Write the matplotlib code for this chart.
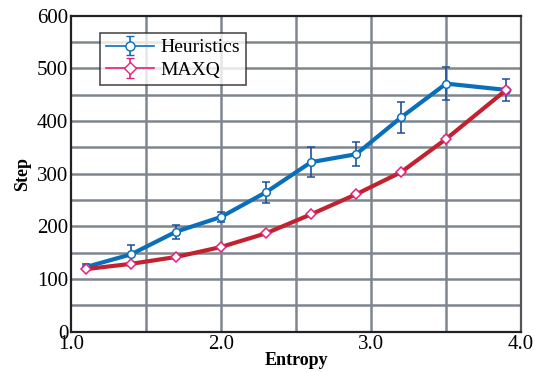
#!/usr/bin/env python3
"""Step vs entropy: Heuristics vs MAXQ."""

import matplotlib
matplotlib.use("Agg")
import matplotlib.pyplot as plt
import numpy as np

entropy = [1.1, 1.4, 1.7, 2.0, 2.3, 2.6, 2.9, 3.2, 3.5, 3.9]
heur_steps = [123, 147, 190, 218, 265, 322, 337, 407, 471, 459]
heur_err = [5, 18, 13, 9, 20, 29, 23, 29, 31, 21]
maxq_steps = [119, 129, 142, 161, 187, 223, 261, 303, 366, 459]
maxq_err = [3, 3, 3, 3, 3, 3, 3, 4, 6, 4]

x_ticks = [1.0, 2.0, 3.0, 4.0]
x_labels = ["1.0", "2.0", "3.0", "4.0"]
y_ticks = [0, 100, 200, 300, 400, 500, 600]

BLUE = "#0a6fba"
BLUE_DARK = "#1f4f9e"
RED = "#c0232f"
PINK = "#e6207a"

plt.rcParams["font.family"] = ["Liberation Serif", "DejaVu Serif"]

fig = plt.figure(figsize=(5.34, 3.72), dpi=100)
ax = fig.add_axes([0.133, 0.108, 0.843, 0.85])

# grid every 0.5 / 50
for gx in np.arange(1.5, 4.0, 0.5):
    ax.axvline(gx, color="#7f868d", linewidth=1.8, zorder=0)
for gy in np.arange(50, 600, 50):
    ax.axhline(gy, color="#7f868d", linewidth=1.8, zorder=0)

ax.errorbar(entropy, heur_steps, yerr=heur_err, color=BLUE, linewidth=3,
            marker="o", markersize=5.5, markerfacecolor="white", markeredgecolor=BLUE,
            markeredgewidth=1.1, ecolor=BLUE_DARK, elinewidth=1.2, capsize=3, zorder=3)
ax.errorbar(entropy, maxq_steps, yerr=maxq_err, color=RED, linewidth=3,
            marker="D", markersize=5.5, markerfacecolor="white", markeredgecolor=PINK,
            markeredgewidth=1.1, ecolor=PINK, elinewidth=1.0, capsize=2, zorder=4)

# thin legend handles
h1 = ax.errorbar([np.nan], [np.nan], yerr=[1], color=BLUE, linewidth=1.2, marker="o",
                 markersize=6.5, markerfacecolor="white", markeredgecolor=BLUE,
                 ecolor=BLUE, elinewidth=1.2, capsize=3, label="Heuristics")
h2 = ax.errorbar([np.nan], [np.nan], yerr=[1], color=PINK, linewidth=1.2, marker="D",
                 markersize=6.5, markerfacecolor="white", markeredgecolor=PINK,
                 ecolor=PINK, elinewidth=1.2, capsize=3, label="MAXQ")
leg = ax.legend(handles=[h1, h2], loc="upper left", bbox_to_anchor=(0.064, 0.945),
                borderaxespad=0, fontsize=14, frameon=True, fancybox=False,
                edgecolor="#222222", handlelength=2.5, borderpad=0.3,
                labelspacing=0.25, handletextpad=0.3)
leg.get_frame().set_linewidth(1.2)

ax.set_xlim(1.0, 4.0)
ax.set_ylim(0, 600)
ax.set_xticks(x_ticks)
ax.set_xticklabels(x_labels)
ax.set_yticks(y_ticks)
ax.tick_params(labelsize=15, length=0, pad=2)
for s in ax.spines.values():
    s.set_color("#222222")
    s.set_linewidth(1.6)
ax.spines["right"].set_color("#555555")

ax.set_xlabel("Entropy", fontsize=13, fontweight="bold", labelpad=-1)
ax.set_ylabel("Step", fontsize=13, fontweight="bold", labelpad=4)

fig.savefig("out.png", dpi=100)
